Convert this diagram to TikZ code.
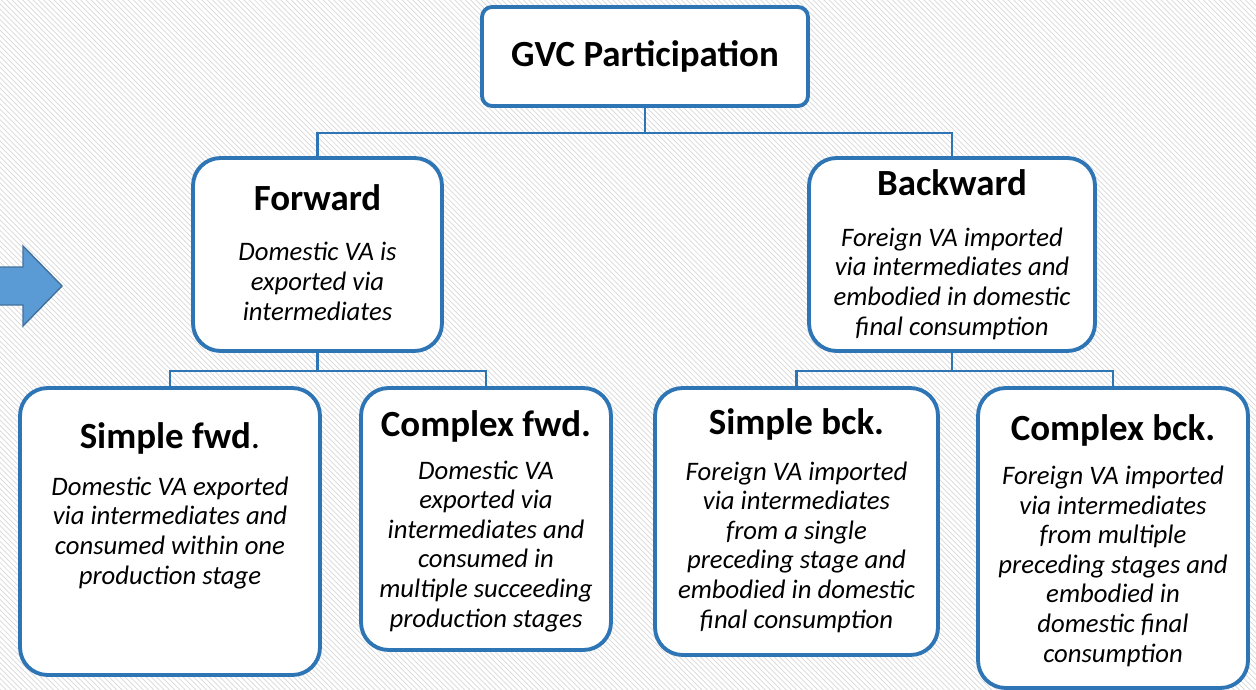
\documentclass[tikz,border=0pt]{standalone}
\usepackage{fontspec}
\setmainfont{Carlito}
\usepackage{tikz}
\usetikzlibrary{positioning, patterns}
\definecolor{boxblue}{RGB}{46,117,182}
\definecolor{arrowblue}{RGB}{91,155,213}
\definecolor{arrowedge}{RGB}{65,113,156}

\begin{document}
\begin{tikzpicture}[x=0.02cm, y=-0.02cm,
  box/.style={draw=boxblue, line width=2.2pt, fill=white, rounded corners=0.55cm},
  link/.style={draw=boxblue, line width=1.3pt},
  ttl/.style={font=\bfseries\fontsize{21}{25}\selectfont, anchor=base, inner sep=0pt},
  desc/.style={font=\itshape\fontsize{15.2}{16.8}\selectfont, align=center, anchor=base, inner sep=0pt}]
  % background
  \useasboundingbox (0,0) rectangle (1256,689);
  \fill[white] (0,0) rectangle (1256,689);
  \fill[pattern=north west lines, pattern color=gray!30] (0,0) rectangle (1256,689);

  % arrow at the left edge
  \filldraw[fill=arrowblue, draw=arrowedge, line width=0.8pt]
    (-10,267) -- (23,267) -- (23,246) -- (62,286) -- (23,326) -- (23,305) -- (-10,305) -- cycle;

  % top
  \node[box, rounded corners=0.2cm, minimum width=6.52cm, minimum height=1.98cm] (gvc) at (645,56.5) {};
  \node[ttl] (gvcT) at (645,67) {GVC Participation};

  % forward / backward (desc nodes sit on their last baseline)
  \node[box, minimum width=4.98cm, minimum height=3.86cm] (fwd) at (317.5,254.5) {};
  \node[box, minimum width=5.72cm, minimum height=3.86cm] (bwd) at (952,254.5) {};
  \node[ttl] (fwdT) at (317.5,211) {Forward};
  \node[desc] (fwdD) at (317.5,320) {Domestic VA is\\exported via\\intermediates};
  \node[ttl] (bwdT) at (952,195) {Backward};
  \node[desc] (bwdD) at (952,335) {Foreign VA imported\\via intermediates and\\embodied in domestic\\final consumption};

  % simple / complex
  \node[box, minimum width=6cm, minimum height=5.74cm] (sfwd) at (170,531.5) {};
  \node[box, minimum width=5cm, minimum height=5.24cm] (cfwd) at (486,519) {};
  \node[box, minimum width=5.66cm, minimum height=5.34cm] (sbck) at (796.5,521.5) {};
  \node[box, minimum width=5.4cm, minimum height=6cm] (cbck) at (1113,538) {};

  \node[ttl] (sfwdT) at (170,448) {Simple fwd{\mdseries.}};
  \node[desc] (sfwdD) at (170,584) {Domestic VA exported\\via intermediates and\\consumed within one\\production stage};
  \node[ttl] (cfwdT) at (486,436) {Complex fwd.};
  \node[desc] (cfwdD) at (486,627) {Domestic VA\\exported via\\intermediates and\\consumed in\\multiple succeeding\\production stages};
  \node[ttl] (sbckT) at (796.5,434) {Simple bck.};
  \node[desc] (sbckD) at (796.5,628) {Foreign VA imported\\via intermediates\\from a single\\preceding stage and\\embodied in domestic\\final consumption};
  \node[ttl] (cbckT) at (1113,440) {Complex bck.};
  \node[desc] (cbckD) at (1113,662) {Foreign VA imported\\via intermediates\\from multiple\\preceding stages and\\embodied in\\domestic final\\consumption};

  % connectors
  \foreach \c in {fwd,bwd}
    \draw[link] (gvc.south) -- ++(0,25) -| (\c.north);
  \foreach \c in {sfwd,cfwd}
    \draw[link] (fwd.south) -- ++(0,18) -| (\c.north);
  \foreach \c in {sbck,cbck}
    \draw[link] (bwd.south) -- ++(0,18) -| (\c.north);
\end{tikzpicture}
\end{document}
